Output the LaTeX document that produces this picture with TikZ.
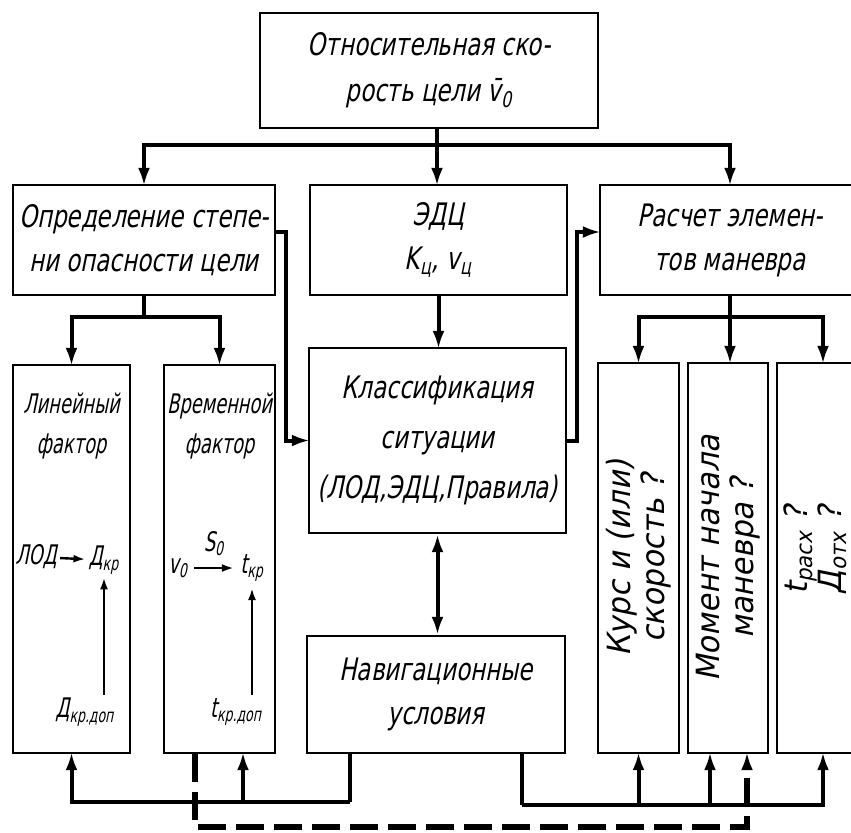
\documentclass[tikz,border=0pt]{standalone}
\usepackage{fontspec}
\setmainfont{DejaVu Sans}[FakeSlant=0.2,FakeStretch=0.74]
\newfontfamily\uzkiy{DejaVu Sans}[FakeSlant=0.2,FakeStretch=0.66]
\newfontfamily\shirokiy{DejaVu Sans}[FakeSlant=0.2,FakeStretch=0.95]
\usepackage{tikz}
\usetikzlibrary{arrows.meta}

\begin{document}
\begin{tikzpicture}[x=0.5pt,y=-0.5pt,
      font=\fontsize{15.5}{22}\selectfont,
      blok/.style={draw, line width=1.2pt, align=center, inner sep=0pt},
      tekst/.style={align=center, inner sep=1.5pt},
      melko/.style={tekst, font=\uzkiy\fontsize{13.5}{20}\selectfont},
      strel/.style={-{Latex[length=9pt,width=6pt]}, line width=2pt, shorten >=-1pt},
      strelm/.style={-{Latex[length=6pt,width=4pt]}, line width=1.2pt},
      liniya/.style={line width=2pt},
      punktir/.style={strel, line width=2.6pt, dash pattern=on 14pt off 5pt},
      povorot/.style={tekst, rotate=90, font=\shirokiy\fontsize{16}{17}\selectfont}]
    \useasboundingbox (0,0) rectangle (851,832);
    \clip (0,0) rectangle (851,832);

    % верхний ряд
    \node[blok, minimum width=169pt, minimum height=57.5pt] (otn) at (429,70.5)
      {Относительная ско-\\[1pt]рость цели \={v}\textsubscript{0}};
    \node[blok, minimum width=131pt, minimum height=55pt] (opr) at (144,240)
      {Определение степе-\\ни опасности цели};
    \node[blok, minimum width=128.5pt, minimum height=55pt] (edc) at (438.5,240)
      {ЭДЦ\\K\textsubscript{ц}, v\textsubscript{ц}};
    \node[blok, minimum width=130pt, minimum height=55pt] (rasch) at (730,240)
      {Расчет элемен-\\тов маневра};

    % факторы
    \node[blok, minimum width=58.5pt, minimum height=194pt] (lin) at (71.5,559) {};
    \node[blok, minimum width=55.5pt, minimum height=194pt] (vrem) at (219.5,559) {};
    \node[melko, anchor=north] (linT) at (71.5,390) {Линейный\\фактор};
    \node[melko, anchor=north] (vremT) at (219.5,390) {Временной\\фактор};
    \node[melko] (lod) at (36,557) {ЛОД};
    \node[melko] (dkr) at (104,560) {Д\textsubscript{кр}};
    \node[melko] (dkrdop) at (85,712) {Д\textsubscript{кр.доп}};
    \node[melko, inner sep=3pt] (v0) at (178,568) {v\textsubscript{0}};
    \node[melko, inner sep=3pt] (tkr) at (252,568) {t\textsubscript{кр}};
    \node[melko] (tkrdop) at (236,712) {t\textsubscript{кр.доп}};

    % центр
    \node[blok, minimum width=128.5pt, minimum height=92.5pt] (klass) at (437.5,440.5)
      {Классификация\\[3pt]ситуации\\[3pt](ЛОД,ЭДЦ,Правила)};
    \node[blok, minimum width=129pt, minimum height=58.5pt] (nav) at (436,694.5)
      {Навигационные\\условия};

    % правые колонки
    \node[blok, minimum width=40.5pt, minimum height=195pt] (kurs) at (638.5,558) {};
    \node[blok, minimum width=40pt, minimum height=195pt] (mom) at (728,558) {};
    \node[blok, minimum width=46pt, minimum height=195pt] (tbox) at (823,558) {};
    \node[povorot] (kursT) at (kurs.center) {Курс и (или)\\скорость ?};
    \node[povorot] (momT) at (mom.center) {Момент начала\\маневра ?};
    \node[povorot] (tT) at (815,550) {t\textsubscript{расх} ?\\Д\textsubscript{отх} ?};

    % связи сверху
    \coordinate (shina) at (437,145);
    \draw[liniya] (otn.south -| shina) -- (shina);
    \draw[strel] (shina) -- (shina |- edc.north);
    \draw[strel] (shina) -| (opr.north);
    \draw[strel] (shina) -| (rasch.north);
    \draw[strel] (edc.south) -- (edc.south |- klass.north);
    \draw[{Latex[length=9pt,width=6pt]}-{Latex[length=9pt,width=6pt]}, line width=2pt]
      (klass.south) -- (klass.south |- nav.north);

    \coordinate (shinaO) at (144,317);
    \draw[liniya] (opr.south) -- (shinaO);
    \draw[strel] (shinaO) -| (lin.north);
    \draw[strel] (shinaO) -| (vrem.north);

    \coordinate (shinaR) at (730,317);
    \draw[liniya] (rasch.south) -- (shinaR);
    \draw[strel] (shinaR) -| (kurs.north);
    \draw[strel] (shinaR) -- (shinaR |- mom.north);
    \draw[strel] (shinaR) -| (tbox.north);

    \draw[strel] ([yshift=4pt]opr.east) -- ++(5pt,0) |- (klass.west);
    \draw[strel] (klass.east) -- ++(5pt,0) |- ([yshift=4pt]rasch.west);

    % внутри факторов
    \draw[strelm] (lod) -- (dkr);
    \draw[strelm] (dkr.south |- dkrdop.north) -- (dkr.south);
    \draw[strelm] (v0) -- node[tekst, above=4pt, font=\uzkiy\fontsize{13.5}{20}\selectfont] (s0) {S\textsubscript{0}} (tkr);
    \draw[strelm] (tkr.south |- tkrdop.north) -- (tkr.south);

    % связи снизу
    \coordinate (shinaL) at (350,802);
    \coordinate (vrVh) at (243,802);
    \draw[liniya] (shinaL |- nav.south) -- (shinaL);
    \draw[strel] (shinaL) -| (lin.south);
    \draw[strel] (vrVh) -- (vrVh |- vrem.south);

    \coordinate (shinaN) at (522,805);
    \coordinate (momVh) at (710,805);
    \draw[liniya] (shinaN |- nav.south) -- (shinaN);
    \draw[strel] (shinaN) -| (tbox.south);
    \draw[strel] (shinaN -| kurs.south) -- (kurs.south);
    \draw[strel] (momVh) -- (momVh |- mom.south);

    % пунктир
    \coordinate (pA) at (195,827);
    \coordinate (pB) at (747,827);
    \draw[punktir] (pA |- vrem.south) -- (pA) -- (pB) -- (pB |- mom.south);
  \end{tikzpicture}
\end{document}
